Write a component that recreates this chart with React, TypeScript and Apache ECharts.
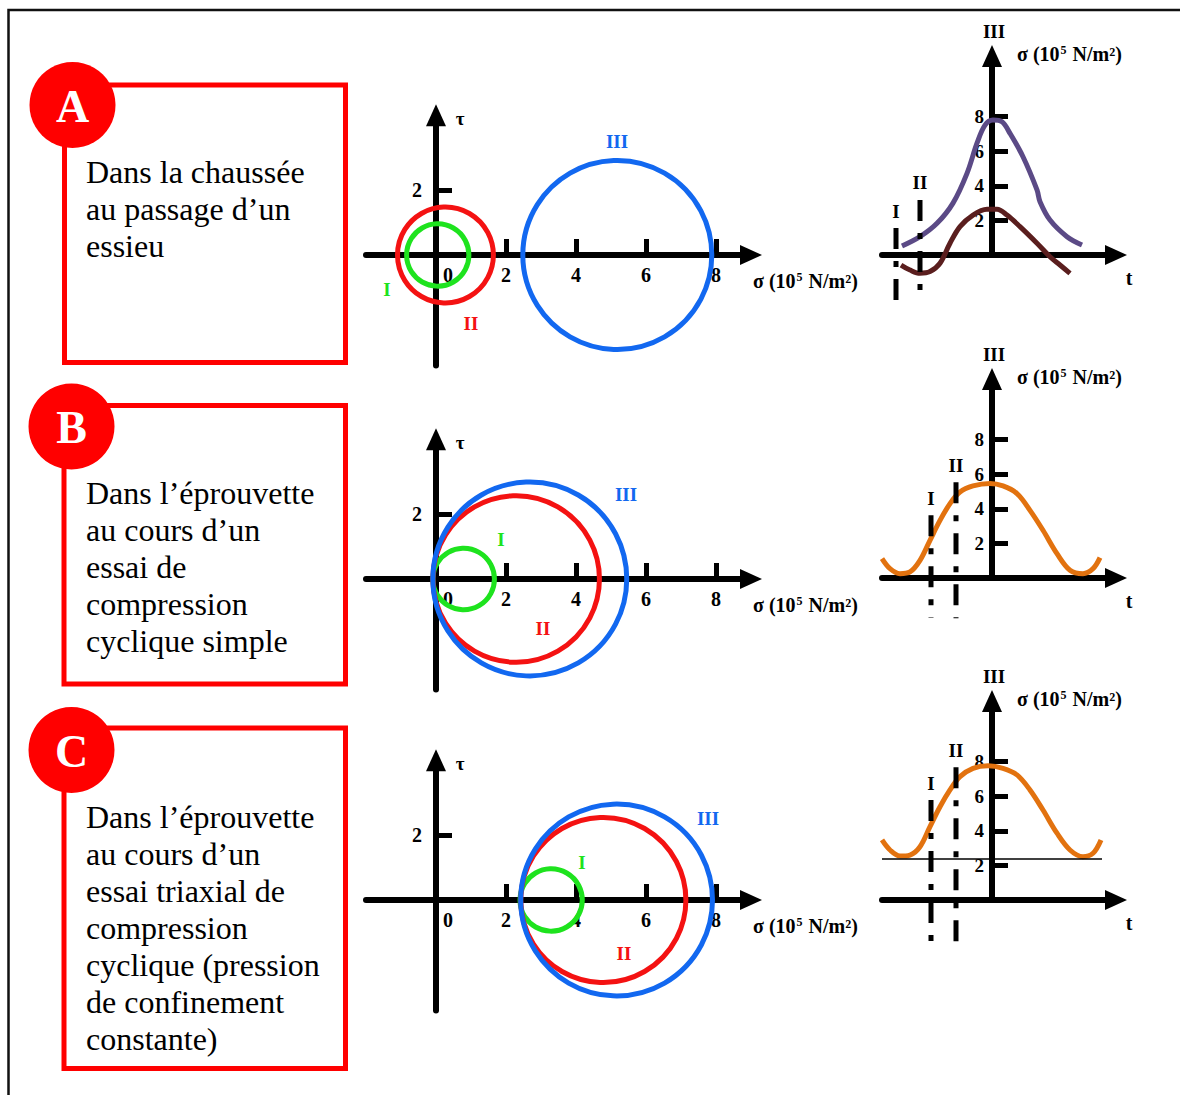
import React, { useEffect, useRef } from 'react';
import * as echarts from 'echarts';

const SERIF = '"Liberation Serif", "Times New Roman", serif';

// Axis ticks and labels
const SIGMA_TICKS = [2, 4, 6, 8];
const SIGMA_LABELS = [0, 2, 4, 6, 8];
const TAU_TICKS = [2];
const TIME_SIGMA_TICKS = [2, 4, 6, 8];

// Mohr circles for states I, II, III: centre on σ and radius (10^5 N/m²)
const STATE_NAMES = ['I', 'II', 'III'];
const STATE_COLORS = ['#1ee31e', '#f41212', '#1268f0'];
const centresA = [0.05, 0.27, 5.18];
const radiiA = [0.89, 1.37, 2.7];
const centresB = [0.79, 2.29, 2.68];
const radiiB = [0.88, 2.38, 2.77];
const centresC = [3.29, 4.78, 5.16];
const radiiC = [0.89, 2.36, 2.74];

// Stress signals σ(t): [t, σ]
const majorA = [
  [-9.0, 0.52], [-7.2, 1.06], [-5.5, 1.83], [-3.9, 3.0], [-2.5, 4.72], [-1.5, 6.46],
  [-0.7, 7.51], [0.1, 7.8], [1.0, 7.7], [1.8, 7.03], [3.1, 5.68], [4.5, 3.76],
  [4.8, 3.08], [5.8, 2.02], [7.5, 1.06], [9.0, 0.58],
];
const minorA = [
  [-9.1, -0.58], [-8.2, -0.87], [-7.2, -1.06], [-6.2, -0.96], [-5.2, -0.48], [-4.2, 0.68],
  [-3.2, 1.64], [-1.9, 2.31], [-0.5, 2.64], [0.5, 2.64], [1.5, 2.31], [2.8, 1.64],
  [4.5, 0.68], [5.8, -0.1], [6.8, -0.58], [7.8, -1.06],
];
const cyclicB = [
  [-11.0, 1.12], [-10.2, 0.54], [-9.2, 0.25], [-8.2, 0.35], [-7.2, 1.02], [-6.2, 2.18],
  [-5.2, 3.33], [-4.2, 4.3], [-3.2, 4.97], [-1.9, 5.32], [-0.2, 5.46], [1.1, 5.32],
  [2.5, 4.88], [3.8, 3.91], [5.1, 2.76], [6.5, 1.41], [7.8, 0.45], [9.1, 0.25],
  [10.1, 0.54], [10.8, 1.18],
];
const cyclicC = [
  [-11.0, 3.47], [-10.2, 2.89], [-9.2, 2.54], [-8.2, 2.6], [-7.2, 3.08], [-6.2, 4.24],
  [-5.2, 5.39], [-4.2, 6.36], [-3.2, 7.13], [-1.9, 7.61], [-0.4, 7.76], [1.1, 7.61],
  [2.5, 7.23], [3.8, 6.36], [5.1, 5.2], [6.5, 3.86], [7.8, 2.89], [9.1, 2.5],
  [10.1, 2.7], [10.9, 3.47],
];
const confiningC = 2.4;
const confiningSpan = [-11, 11];

// Instants I and II on the signals: [t, σ top of marker, σ bottom of marker]
const INSTANT_NAMES = ['I', 'II'];
const instantsA = [[-9.6, 1.56, -2.6], [-7.2, 3.18, -2.6]];
const instantsB = [[-6.1, 3.62, -2.3], [-3.6, 5.53, -2.33]];
const instantsC = [[-6.1, 5.78, -3.0], [-3.6, 7.68, -3.06]];

// Captions of the three cases
const CASE_LETTERS = ['A', 'B', 'C'];
const CASE_TEXTS = [
  'Dans la chaussée\nau passage d’un\nessieu',
  'Dans l’éprouvette\nau cours d’un\nessai de\ncompression\ncyclique simple',
  'Dans l’éprouvette\nau cours d’un\nessai triaxial de\ncompression\ncyclique (pression\nde confinement\nconstante)',
];

// ---- layout (pixels) ----
const MOHR_X0 = 436;
const MOHR_KX = 35;
const MOHR_KY = 32.5;
const MOHR_OY = [255, 579, 900];
const MOHR_XMIN = -2, MOHR_XMAX = 9, MOHR_YMIN = -3.4, MOHR_YMAX = 4.3;

const TIME_X0 = 992;
const TIME_KX = 10;
const TIME_KY = 17.3;
const TIME_OY = [255, 578, 900];
const TIME_XMIN = -11, TIME_XMAX = 12.4, TIME_YMIN = 0, TIME_YMAX = 11.5;

const BOXES = [
  { x: 64.5, y: 85, w: 281, h: 277.5, cx: 72.5, cy: 105, textY: 153 },
  { x: 64, y: 405.5, w: 281.5, h: 278.5, cx: 71.5, cy: 426.5, textY: 474 },
  { x: 64, y: 728, w: 281.5, h: 340.5, cx: 71.5, cy: 750, textY: 798 },
];

const STATE_LABEL_POS = [
  [[387, 289], [471, 323], [617, 141]],
  [[501, 539], [543, 628], [626, 494]],
  [[582, 862], [624, 953], [708, 818]],
];

const BLACK = '#000';

function boldFont(size: number) {
  return `bold ${size}px ${SERIF}`;
}

function sigmaUnitText(x: number, y: number) {
  return {
    type: 'text',
    x,
    y,
    style: {
      text: 'σ (10{s|5} N/m²)',
      font: boldFont(20),
      fill: BLACK,
      align: 'left',
      verticalAlign: 'middle',
      rich: {
        s: { fontSize: 12, fontWeight: 'bold', fontFamily: SERIF, verticalAlign: 'top', padding: [0, 1, 0, 1] },
      },
    },
  };
}

function buildOption() {
  const grid: any[] = [];
  const xAxis: any[] = [];
  const yAxis: any[] = [];
  const series: any[] = [];
  const graphic: any[] = [];

  const arrowLine = {
    onZero: false,
    lineStyle: { color: BLACK, width: 6 },
    symbol: ['none', 'triangle'],
    symbolSize: [20, 22],
  };
  const tickLabelStyle = { color: BLACK, fontFamily: SERIF, fontWeight: 'bold', fontSize: 20 };

  const centres = [centresA, centresB, centresC];
  const radii = [radiiA, radiiB, radiiC];
  const signals = [
    [{ data: majorA, color: '#5b4a86' }, { data: minorA, color: '#5a1e1e' }],
    [{ data: cyclicB, color: '#e2720f' }],
    [{ data: cyclicC, color: '#e2720f' }],
  ];
  const instants = [instantsA, instantsB, instantsC];

  for (let row = 0; row < 3; row++) {
    const oy = MOHR_OY[row];
    const ty = TIME_OY[row];
    const gMohr = row * 2;
    const gTime = row * 2 + 1;

    // Mohr plane (σ, τ); axes shifted onto σ = 0 and τ = 0 with offsets
    grid.push({
      left: MOHR_X0 + MOHR_XMIN * MOHR_KX,
      top: oy - MOHR_YMAX * MOHR_KY,
      width: (MOHR_XMAX - MOHR_XMIN) * MOHR_KX,
      height: (MOHR_YMAX - MOHR_YMIN) * MOHR_KY,
    });
    xAxis.push({
      gridIndex: gMohr,
      type: 'value',
      position: 'bottom',
      offset: MOHR_YMIN * MOHR_KY,
      min: MOHR_XMIN,
      max: MOHR_XMAX,
      axisLine: arrowLine,
      axisTick: { show: true, inside: true, length: 16, customValues: SIGMA_TICKS, lineStyle: { color: BLACK, width: 5 } },
      axisLabel: {
        customValues: SIGMA_LABELS,
        margin: 10,
        ...tickLabelStyle,
        formatter: (v: number) => (v === 0 ? '{z|0}' : String(v)),
        rich: { z: { ...tickLabelStyle, padding: [0, 0, 0, 24] } },
      },
      splitLine: { show: false },
    });
    yAxis.push({
      gridIndex: gMohr,
      type: 'value',
      position: 'left',
      offset: MOHR_XMIN * MOHR_KX,
      min: MOHR_YMIN,
      max: MOHR_YMAX,
      axisLine: arrowLine,
      axisTick: { show: true, inside: true, length: 16, customValues: TAU_TICKS, lineStyle: { color: BLACK, width: 5 } },
      axisLabel: { customValues: TAU_TICKS, margin: 14, ...tickLabelStyle },
      splitLine: { show: false },
    });
    series.push({
      type: 'custom',
      xAxisIndex: gMohr,
      yAxisIndex: gMohr,
      z: 5,
      encode: { x: 0, y: 1 },
      data: centres[row].map((c, k) => ({
        value: [c, 0, radii[row][k]],
        itemStyle: { color: STATE_COLORS[k] },
      })),
      renderItem: (_params: any, api: any) => {
        const p = api.coord([api.value(0), api.value(1)]);
        const r = api.size([api.value(2), 0])[0];
        return {
          type: 'circle',
          shape: { cx: p[0], cy: p[1], r },
          style: { fill: 'none', stroke: api.visual('color'), lineWidth: 5 },
        };
      },
    });

    // Signal σ(t)
    grid.push({
      left: TIME_X0 + TIME_XMIN * TIME_KX,
      top: ty - TIME_YMAX * TIME_KY,
      width: (TIME_XMAX - TIME_XMIN) * TIME_KX,
      height: (TIME_YMAX - TIME_YMIN) * TIME_KY,
    });
    xAxis.push({
      gridIndex: gTime,
      type: 'value',
      position: 'bottom',
      min: TIME_XMIN,
      max: TIME_XMAX,
      axisLine: arrowLine,
      axisTick: { show: false },
      axisLabel: { show: false },
      splitLine: { show: false },
    });
    yAxis.push({
      gridIndex: gTime,
      type: 'value',
      position: 'left',
      offset: TIME_XMIN * TIME_KX,
      min: TIME_YMIN,
      max: TIME_YMAX,
      axisLine: arrowLine,
      axisTick: { show: true, inside: true, length: 16, customValues: TIME_SIGMA_TICKS, lineStyle: { color: BLACK, width: 5 } },
      axisLabel: { customValues: TIME_SIGMA_TICKS, margin: 8, ...tickLabelStyle, fontSize: 19 },
      splitLine: { show: false },
    });
    signals[row].forEach((s, k) => {
      const line: any = {
        type: 'line',
        xAxisIndex: gTime,
        yAxisIndex: gTime,
        data: s.data,
        smooth: 0.35,
        symbol: 'none',
        clip: false,
        z: 4,
        lineStyle: { color: s.color, width: 5 },
      };
      if (row === 2 && k === 0) {
        line.markLine = {
          silent: true,
          symbol: ['none', 'none'],
          label: { show: false },
          lineStyle: { type: 'solid', color: BLACK, width: 1.5 },
          data: [[{ coord: [confiningSpan[0], confiningC] }, { coord: [confiningSpan[1], confiningC] }]],
        };
      }
      series.push(line);
    });
    series.push({
      type: 'custom',
      xAxisIndex: gTime,
      yAxisIndex: gTime,
      z: 6,
      clip: false,
      encode: { x: 0, y: [1, 2] },
      data: instants[row],
      renderItem: (params: any, api: any) => {
        const top = api.coord([api.value(0), api.value(1)]);
        const bot = api.coord([api.value(0), api.value(2)]);
        return {
          type: 'group',
          children: [
            {
              type: 'line',
              shape: { x1: top[0], y1: top[1], x2: bot[0], y2: bot[1] },
              style: { stroke: BLACK, lineWidth: 5, lineDash: [21, 12, 6, 12] },
            },
            {
              type: 'text',
              x: top[0],
              y: top[1] - 17,
              style: {
                text: INSTANT_NAMES[params.dataIndex],
                font: boldFont(19),
                fill: BLACK,
                align: 'center',
                verticalAlign: 'middle',
              },
            },
          ],
        };
      },
    });

    // Case box, letter badge and caption
    const b = BOXES[row];
    graphic.push({
      type: 'rect',
      shape: { x: b.x, y: b.y, width: b.w, height: b.h },
      style: { fill: 'none', stroke: '#ff0000', lineWidth: 5 },
    });
    graphic.push({
      type: 'circle',
      shape: { cx: b.cx, cy: b.cy, r: 43 },
      style: { fill: '#ff0000' },
    });
    graphic.push({
      type: 'text',
      x: b.cx,
      y: b.cy + 1,
      style: { text: CASE_LETTERS[row], font: boldFont(46), fill: '#fff', align: 'center', verticalAlign: 'middle' },
    });
    graphic.push({
      type: 'text',
      x: 86,
      y: b.textY,
      style: {
        text: CASE_TEXTS[row],
        font: `32px ${SERIF}`,
        lineHeight: 37,
        fill: BLACK,
        align: 'left',
        verticalAlign: 'top',
      },
    });

    // Mohr plane annotations
    graphic.push({
      type: 'text',
      x: 460,
      y: oy - 137,
      style: { text: 'τ', font: boldFont(19), fill: BLACK, align: 'center', verticalAlign: 'middle' },
    });
    graphic.push(sigmaUnitText(753, oy + 26));
    STATE_NAMES.forEach((name, k) => {
      const [lx, ly] = STATE_LABEL_POS[row][k];
      graphic.push({
        type: 'text',
        x: lx,
        y: ly,
        style: { text: name, font: boldFont(19), fill: STATE_COLORS[k], align: 'center', verticalAlign: 'middle' },
      });
    });

    // Signal annotations
    graphic.push({
      type: 'text',
      x: TIME_X0 + 2,
      y: ty - 224,
      style: { text: 'III', font: boldFont(19), fill: BLACK, align: 'center', verticalAlign: 'middle' },
    });
    graphic.push(sigmaUnitText(1017, ty - 201));
    graphic.push({
      type: 'text',
      x: 1129,
      y: ty + 23,
      style: { text: 't', font: boldFont(20), fill: BLACK, align: 'center', verticalAlign: 'middle' },
    });
  }

  // Frame
  graphic.push({
    type: 'polyline',
    shape: { points: [[8.5, 1095], [8.5, 10], [1180, 10]] },
    style: { stroke: '#111', lineWidth: 2.5, fill: 'none' },
  });

  return {
    animation: false,
    backgroundColor: '#fff',
    grid,
    xAxis,
    yAxis,
    series,
    graphic,
  };
}

export default function App() {
  const ref = useRef<HTMLDivElement>(null);
  useEffect(() => {
    if (!ref.current) return;
    const chart = echarts.init(ref.current, undefined, { renderer: 'svg' });
    chart.setOption(buildOption() as any);
    return () => chart.dispose();
  }, []);
  return (
    <div
      ref={ref}
      style={{ position: 'absolute', left: 0, top: 0, width: 1180, height: 1095, background: '#fff' }}
    />
  );
}
